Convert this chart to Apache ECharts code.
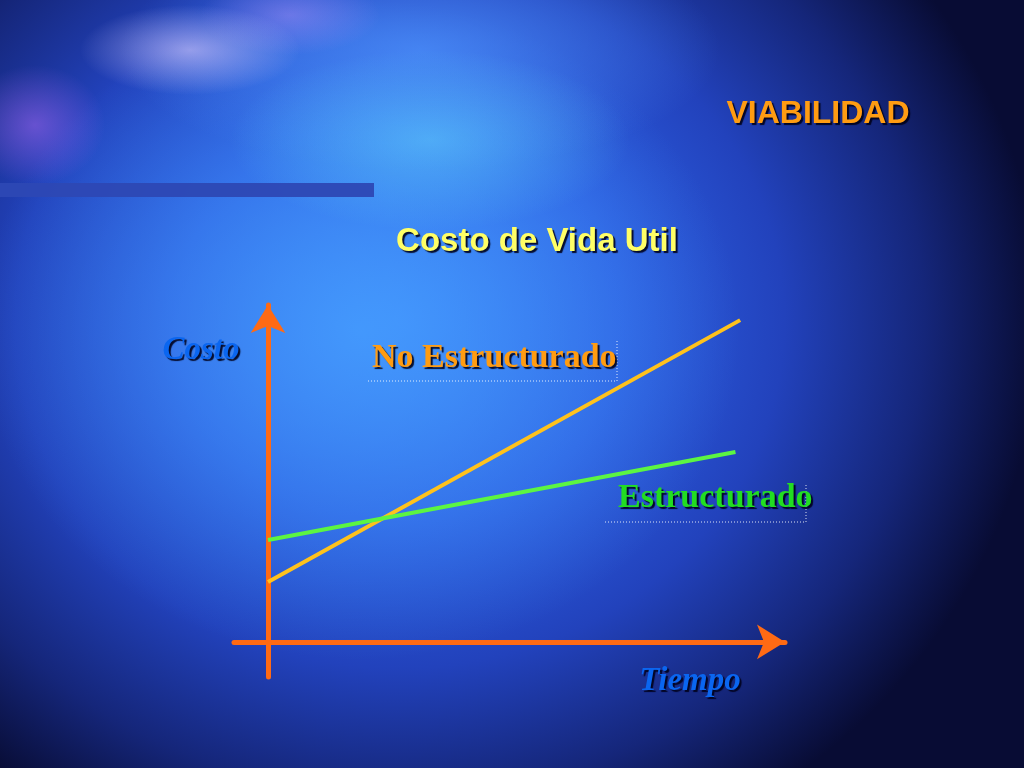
<!DOCTYPE html>
<html>
<head>
<meta charset="utf-8">
<script src="https://cdn.jsdelivr.net/npm/echarts@6/dist/echarts.min.js"></script>
<style>
html,body{margin:0;padding:0;width:1024px;height:768px;overflow:hidden;}
body{
  background:
    radial-gradient(ellipse 110px 45px at 190px 50px, rgba(220,205,255,0.6), rgba(220,205,255,0) 100%),
    radial-gradient(ellipse 70px 60px at 35px 125px, rgba(190,110,255,0.45), rgba(190,110,255,0) 100%),
    radial-gradient(ellipse 90px 40px at 290px 15px, rgba(190,150,255,0.4), rgba(190,150,255,0) 100%),
    radial-gradient(ellipse 200px 90px at 430px 140px, rgba(100,220,255,0.5), rgba(100,220,255,0) 100%),
    radial-gradient(ellipse 300px 120px at 420px 50px, rgba(80,150,255,0.7), rgba(80,150,255,0) 100%),
    radial-gradient(ellipse 380px 330px at 360px 330px, rgba(70,160,255,0.8), rgba(70,160,255,0) 100%),
    radial-gradient(ellipse 640px 580px at 400px 320px, #3a7df5 0%, #2c5de0 35%, #2242bc 60%, #15267a 82%, #080c34 100%),
    #060826;
}
#chart{width:1024px;height:768px;}
</style>
</head>
<body>
<div id="chart"></div>
<script>
// Data (time units on x, cost units on y)
const seriesNames = ['No Estructurado', 'Estructurado'];
const tiempoNoEstructurado = [0, 10];
const costoNoEstructurado = [1.86, 10.0];
const tiempoEstructurado = [0, 9.9];
const costoEstructurado = [3.17, 5.9];
const axisNames = ['Tiempo', 'Costo'];
const titleText = 'VIABILIDAD';
const subtitleText = 'Costo de Vida Util';

const chart = echarts.init(document.getElementById('chart'), null, {renderer: 'canvas'});

const pairs = (xs, ys) => xs.map((x, i) => [x, ys[i]]);
const axisColor = '#ff6a14';
const serif = '"Liberation Serif", "Times New Roman", serif';
const sans = '"Liberation Sans", Arial, sans-serif';
const shadow = {textShadowColor: 'rgba(0,0,25,0.9)', textShadowOffsetX: 2, textShadowOffsetY: 2, textShadowBlur: 1};

function label(x, y, text, fill, family, size, italic, align) {
  return {
    type: 'text', x: x, y: y, z: 10,
    style: Object.assign({
      text: text, fill: fill, fontFamily: family, fontSize: size, fontWeight: 'bold',
      fontStyle: italic ? 'italic' : 'normal', align: align || 'center', verticalAlign: 'middle'
    }, shadow)
  };
}

const option = {
  backgroundColor: 'transparent',
  animation: false,
  grid: {left: 234, right: 239, top: 305, bottom: 91, containLabel: false},
  xAxis: {
    type: 'value', min: -0.72, max: 10.95,
    axisLine: {show: true, onZero: true, symbol: ['none', 'arrow'], symbolSize: [26, 28],
      lineStyle: {color: axisColor, width: 5}},
    axisTick: {show: false}, axisLabel: {show: false}, splitLine: {show: false}
  },
  yAxis: {
    type: 'value', min: -1.09, max: 10.47,
    axisLine: {show: true, onZero: true, symbol: ['none', 'arrow'], symbolSize: [26, 28],
      lineStyle: {color: axisColor, width: 5}},
    axisTick: {show: false}, axisLabel: {show: false}, splitLine: {show: false}
  },
  series: [
    {
      name: seriesNames[0], type: 'line', data: pairs(tiempoNoEstructurado, costoNoEstructurado),
      symbol: 'none', lineStyle: {color: '#ffc21c', width: 4}, z: 3
    },
    {
      name: seriesNames[1], type: 'line', data: pairs(tiempoEstructurado, costoEstructurado),
      symbol: 'none', lineStyle: {color: '#5cf542', width: 4}, z: 3
    }
  ],
  graphic: [
    {type: 'rect', left: 0, top: 183, shape: {width: 374, height: 14}, style: {fill: '#2d48b4', opacity: 0.95}, z: 1},
    label(818, 114, titleText, '#ff9c12', sans, 32, false),
    label(537, 242, subtitleText, '#ffff66', sans, 33, false),
    label(201, 350, axisNames[1], '#0a66f0', serif, 33, true),
    label(690, 681, axisNames[0], '#0a66f0', serif, 33, true),
    label(372, 358, seriesNames[0], '#ff9c12', serif, 34, false, 'left'),
    label(618, 498, seriesNames[1], '#22dd22', serif, 34, false, 'left'),
    {type: 'polyline', shape: {points: [[368, 381], [617, 381], [617, 340]]}, style: {stroke: '#ffffff', lineWidth: 1, lineDash: [1, 2], fill: null, opacity: 0.85}},
    {type: 'polyline', shape: {points: [[605, 522], [806, 522], [806, 484]]}, style: {stroke: '#ffffff', lineWidth: 1, lineDash: [1, 2], fill: null, opacity: 0.85}}
  ]
};
chart.setOption(option);
</script>
</body>
</html>
